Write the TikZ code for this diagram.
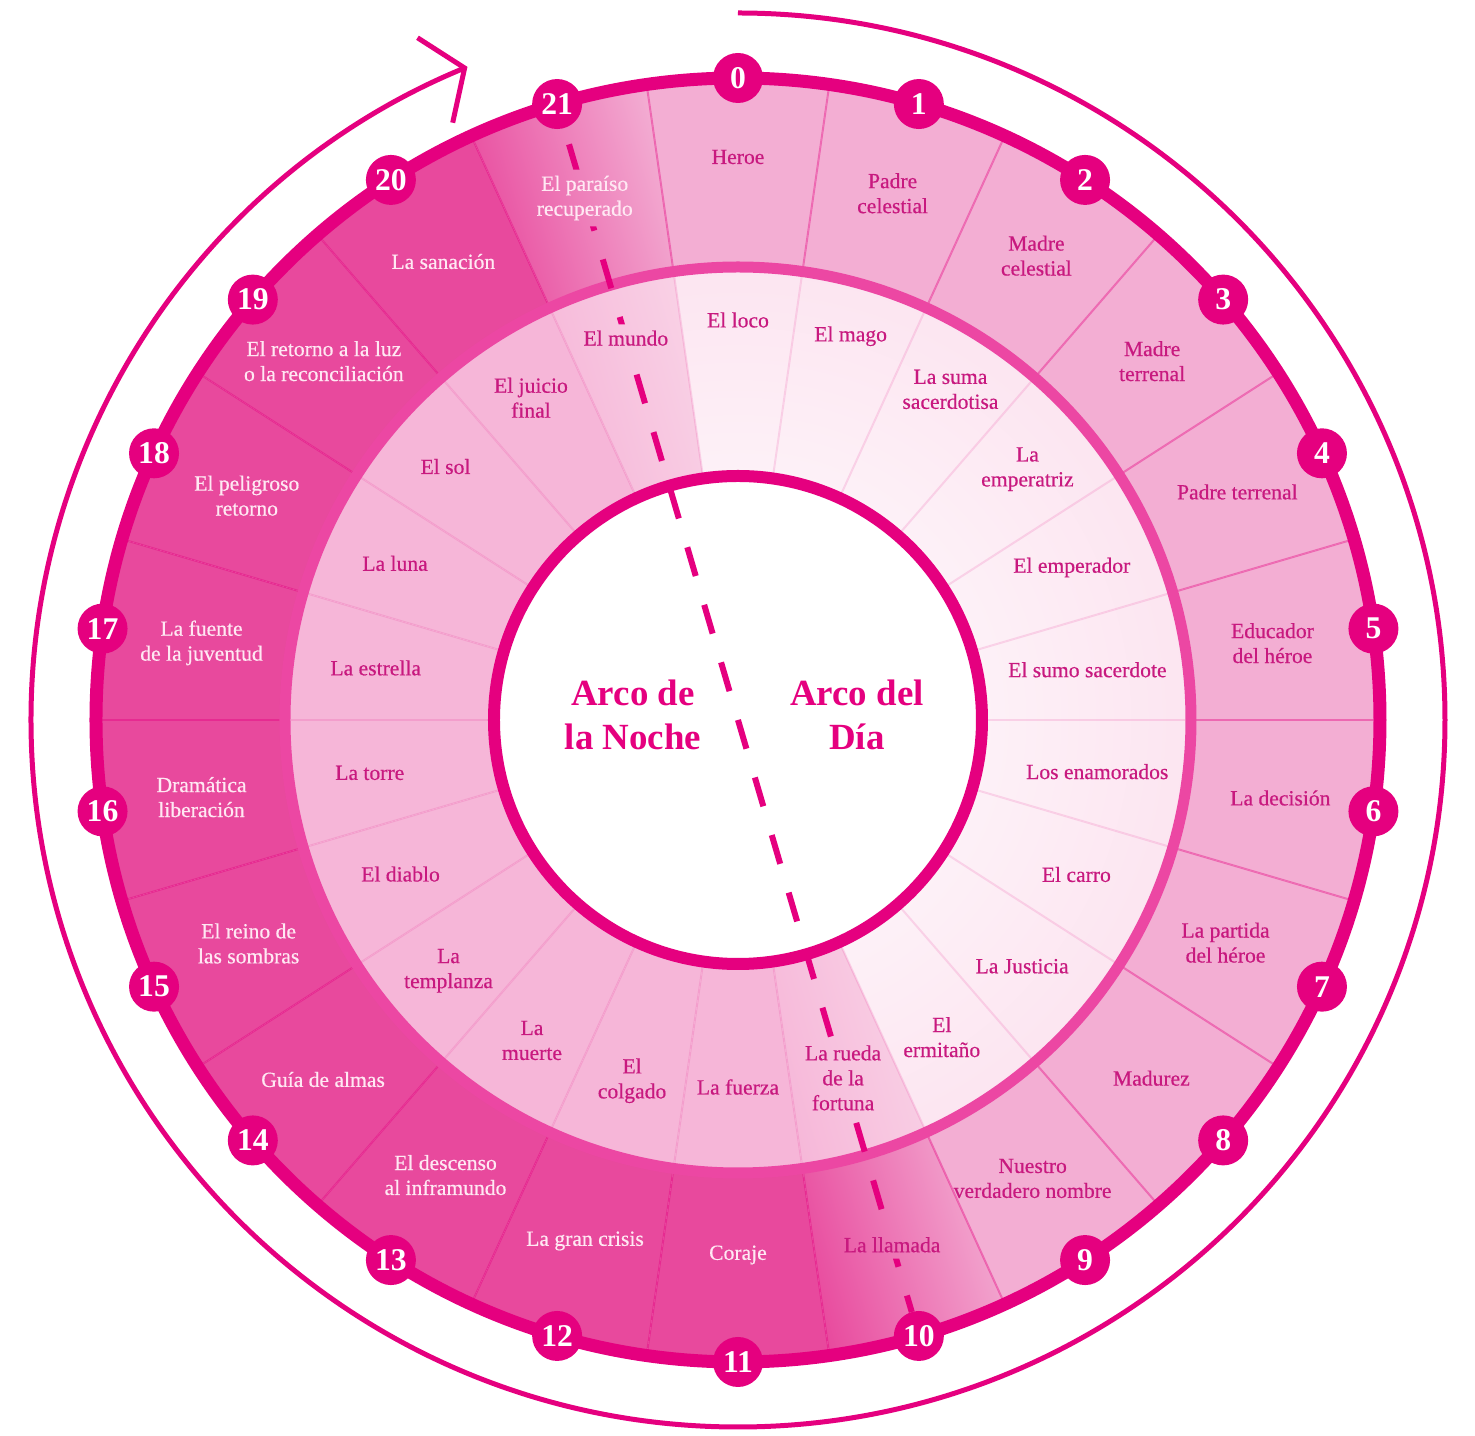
\documentclass[tikz,border=0pt]{standalone}
\usepackage{fontspec}
\setmainfont{Liberation Serif}
\newfontfamily\wheelfont{Liberation Serif}[FakeBold=0.5]
\usetikzlibrary{arrows.meta}
\definecolor{wheelmag}{HTML}{E5007F}
\definecolor{nightout}{HTML}{E8499D}
\definecolor{dayout}{HTML}{F3AED3}
\definecolor{nightmid}{HTML}{F6B6D8}
\definecolor{daymid}{HTML}{F9D2E6}
\definecolor{dayinner}{HTML}{FCE4F0}
\definecolor{labeldark}{HTML}{C8197F}
\definecolor{labellight}{HTML}{FFE8F3}
\pgfdeclareradialshading{dayfade}{\pgfpointorigin}{color(0bp)=(white); color(26bp)=(dayinner); color(50bp)=(daymid); color(100bp)=(daymid)}
\tikzset{
  sectorpath/.style args={#1/#2/#3}{
    insert path={(#1-8.182:#2) arc[start angle=#1-8.182, end angle=#1+8.182, radius=#2]
      -- (#1+8.182:#3) arc[start angle=#1+8.182, end angle=#1-8.182, radius=#3] -- cycle}
  },
  ringlabel/.style={
    align=center,
    font=\wheelfont\fontsize{12.3}{14.2}\selectfont,
    inner sep=1pt
  },
  darklabel/.style={ringlabel, text=labeldark},
  lightlabel/.style={ringlabel, text=labellight},
  numdot/.style={
    circle,
    fill=wheelmag,
    text=white,
    minimum size=1cm,
    inner sep=0pt,
    font=\fontsize{18}{18}\selectfont\bfseries
  },
  arcotext/.style={
    align=center,
    text=wheelmag,
    font=\fontsize{21}{25}\selectfont\bfseries
  },
  spoke/.style={draw=wheelmag, line width=0.04cm},
  dashline/.style={
    draw=wheelmag,
    line width=0.12cm,
    dash pattern=on 0.6cm off 0.6cm
  },
  turnarrow/.style={
    draw=wheelmag,
    line width=0.1cm,
    -{Straight Barb[length=0.64cm, width=1.84cm]}
  }
}

\begin{document}
\begin{tikzpicture}[x=0.02cm, y=0.02cm]
  \useasboundingbox (-738,-716) rectangle (737,720);

  % outer ring
  \foreach \k [evaluate=\k as \a using {90-\k*16.3636}] in {0,...,9}
    \fill[dayout, sectorpath={\a/642/453}];
  \foreach \k [evaluate=\k as \a using {90-\k*16.3636}] in {11,...,20}
    \fill[nightout, sectorpath={\a/642/453}];
  \foreach \k [evaluate=\k as \a using {90-\k*16.3636}] in {10,21}
    \shade[left color=nightout, right color=dayout, shading angle=106.36, sectorpath={\a/642/453}];

  % middle ring
  \foreach \k [evaluate=\k as \a using {90-\k*16.3636}] in {0,...,9} {
    \begin{scope}
      \path[sectorpath={\a/453/244}] [clip];
      \shade[shading=dayfade] (0,0) circle (453);
    \end{scope}
  }
  \foreach \k [evaluate=\k as \a using {90-\k*16.3636}] in {11,...,20}
    \fill[nightmid, sectorpath={\a/453/244}];
  \foreach \k [evaluate=\k as \a using {90-\k*16.3636}] in {10,21}
    \shade[left color=nightmid, right color=daymid, shading angle=106.36, sectorpath={\a/453/244}];

  % spokes
  \foreach \k [evaluate=\k as \b using {98.182-\k*16.3636}] in {0,...,21} {
    \draw[spoke, draw opacity=0.13] (\b:244) -- (\b:453);
    \draw[spoke, draw opacity=0.4] (\b:453) -- (\b:642);
  }

  % rims
  \draw[wheelmag, line width=0.26cm] (0,0) circle (642);
  \draw[wheelmag!72, line width=0.22cm] (0,0) circle (453);
  \filldraw[fill=white, draw=wheelmag, line width=0.24cm] (0,0) circle (244);

  % stages
  \foreach \k/\r/\txt in {0/563/Heroe, 1/549/Padre\\celestial, 2/552/Madre\\celestial,
      3/548/Madre\\terrenal, 4/549/Padre terrenal, 5/540/Educador\\del héroe,
      6/548/La decisión, 7/536/La partida\\del héroe, 8/547/Madurez,
      9/545/Nuestro\\verdadero nombre, 10/547/La llamada}
    \node[darklabel] (o\k) at ({90-\k*16.3636}:\r) {\txt};
  \foreach \k/\r/\txt in {11/535/Coraje, 12/543/La gran crisis,
      13/541/El descenso\\al inframundo, 14/549/Guía de almas,
      15/538/El reino de\\las sombras, 16/542/Dramática\\liberación,
      17/542/La fuente\\de la juventud, 18/540/El peligroso\\retorno,
      19/548/El retorno a la luz\\o la reconciliación, 20/545/La sanación,
      21/544/El paraíso\\recuperado}
    \node[lightlabel] (o\k) at ({90-\k*16.3636}:\r) {\txt};

  % arcana
  \foreach \k/\r/\txt in {0/400/El loco, 1/400/El mago, 2/393/La suma\\sacerdotisa,
      3/383/La\\emperatriz, 4/367/El emperador, 5/353/El sumo sacerdote,
      6/363/Los enamorados, 7/372/El carro, 8/376/La Justicia,
      9/377/El\\ermitaño, 10/373/La rueda\\de la\\fortuna, 11/367/La fuerza,
      12/376/El\\colgado, 13/381/La\\muerte, 14/383/La\\templanza,
      15/371/El diablo, 16/372/La torre, 17/366/La estrella, 18/377/La luna,
      19/387/El sol, 20/383/El juicio\\final, 21/398/El mundo}
    \node[darklabel] (m\k) at ({90-\k*16.3636}:\r) {\txt};

  \node[arcotext] (night) at (-105,5) {Arco de\\la Noche};
  \node[arcotext] (day) at (119,5) {Arco del\\Día};

  % dividing line, kept off the labels it crosses
  \coordinate (dtop) at (106.36:600);
  \coordinate (dbot) at (-73.64:617);
  \begin{scope}[even odd rule]
    \clip (-738,720) rectangle (737,-716)
      ([shift={(-4,-4)}]o21.south west) rectangle ([shift={(4,4)}]o21.north east)
      ([shift={(-4,-4)}]m21.south west) rectangle ([shift={(4,4)}]m21.north east)
      ([shift={(-4,-4)}]m10.south west) rectangle ([shift={(4,4)}]m10.north east)
      ([shift={(-4,-4)}]o10.south west) rectangle ([shift={(4,4)}]o10.north east);
    \draw[dashline] (dtop) -- (dbot);
  \end{scope}

  % numbers
  \foreach \k in {0,...,21}
    \node[numdot] (n\k) at ({90-\k*16.3636}:642) {\k};

  % cycle arrow
  \coordinate (cyclestart) at (90:707);
  \draw[turnarrow] (cyclestart) arc[start angle=90, end angle=-247.5, radius=707];
\end{tikzpicture}
\end{document}
